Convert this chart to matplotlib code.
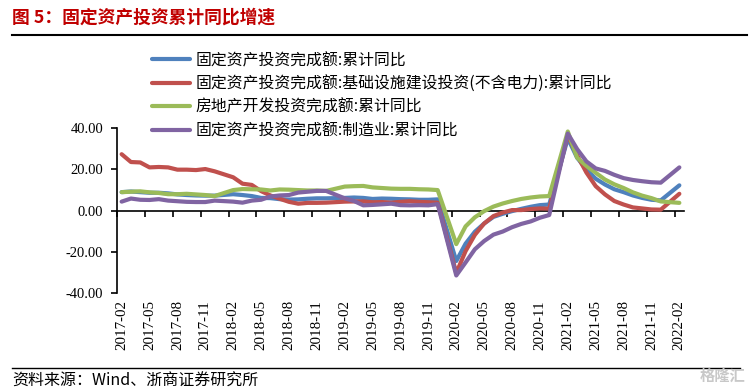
import matplotlib
matplotlib.use("Agg")
import matplotlib.pyplot as plt
from matplotlib.lines import Line2D

# ---------------- data ----------------
years = [2017, 2018, 2019, 2020, 2021, 2022]
months_per_year = {2017: list(range(2, 13)), 2018: list(range(2, 13)), 2019: list(range(2, 13)),
                   2020: list(range(2, 13)), 2021: list(range(2, 13)), 2022: [2]}

fai_total = [8.9, 9.2, 8.9, 8.6, 8.6, 8.3, 7.8, 7.5, 7.3, 7.2, 7.2,
             7.9, 7.5, 7.0, 6.1, 6.0, 5.5, 5.3, 5.4, 5.7, 5.9, 5.9,
             6.1, 6.3, 6.1, 5.6, 5.8, 5.7, 5.5, 5.4, 5.2, 5.2, 5.4,
             -24.5, -16.1, -10.3, -6.3, -3.1, -1.6, -0.3, 0.8, 1.8, 2.6, 2.9,
             35.0, 25.6, 19.9, 15.4, 12.6, 10.3, 8.9, 7.3, 6.1, 5.2, 4.9,
             12.2]
fai_infra = [27.3, 23.5, 23.3, 20.9, 21.1, 20.9, 19.8, 19.8, 19.6, 20.1, 19.0,
             16.1, 13.0, 12.4, 9.4, 7.3, 5.7, 4.2, 3.3, 3.7, 3.7, 3.8,
             4.3, 4.4, 4.4, 4.0, 4.1, 3.8, 4.2, 4.5, 4.2, 4.0, 3.8,
             -30.3, -19.7, -11.8, -6.3, -2.7, -1.0, 0.2, 0.2, 0.7, 1.0, 0.9,
             36.6, 26.8, 18.4, 11.8, 7.8, 4.6, 2.9, 1.5, 1.0, 0.5, 0.4,
             8.1]
fai_realestate = [8.9, 9.1, 9.3, 8.8, 8.5, 7.9, 7.9, 8.1, 7.8, 7.5, 7.0,
                  9.9, 10.4, 10.3, 10.2, 9.7, 10.2, 10.1, 9.9, 9.7, 9.7, 9.5,
                  11.6, 11.8, 11.9, 11.2, 10.9, 10.6, 10.5, 10.5, 10.3, 10.2, 9.9,
                  -16.3, -7.7, -3.3, -0.3, 1.9, 3.4, 4.6, 5.6, 6.3, 6.8, 7.0,
                  38.3, 25.6, 21.6, 18.3, 15.0, 12.7, 10.9, 8.8, 7.2, 6.0, 4.4,
                  3.7]
fai_manuf = [4.3, 5.8, 5.2, 5.1, 5.5, 4.8, 4.5, 4.2, 4.1, 4.1, 4.8,
             4.3, 3.8, 4.8, 5.2, 6.8, 7.3, 7.5, 8.7, 9.1, 9.5, 9.5,
             5.9, 4.6, 2.5, 2.7, 3.0, 3.3, 2.6, 2.5, 2.6, 2.5, 3.1,
             -31.5, -25.2, -18.8, -14.8, -11.7, -10.2, -8.1, -6.5, -5.3, -3.5, -2.2,
             37.3, 29.8, 23.8, 20.4, 19.2, 17.3, 15.7, 14.8, 14.2, 13.7, 13.5,
             20.9]

series_names = ["固定资产投资完成额:累计同比",
                "固定资产投资完成额:基础设施建设投资(不含电力):累计同比",
                "房地产开发投资完成额:累计同比",
                "固定资产投资完成额:制造业:累计同比"]
series_colors = ["#4F81BD", "#C0504D", "#9BBB59", "#8064A2"]

tick_labels = ["2017-02", "2017-05", "2017-08", "2017-11", "2018-02", "2018-05", "2018-08",
               "2018-11", "2019-02", "2019-05", "2019-08", "2019-11", "2020-02", "2020-05",
               "2020-08", "2020-11", "2021-02", "2021-05", "2021-08", "2021-11", "2022-02"]
y_ticks = [-40, -20, 0, 20, 40]

title = "图 5：固定资产投资累计同比增速"
source = "资料来源：Wind、浙商证券研究所"

# month index from 2017-02 (January has no data; lines connect across it)
x_pos = [(y - 2017) * 12 + (m - 2) for y in years for m in months_per_year[y]]
tick_pos = [(int(s[:4]) - 2017) * 12 + (int(s[5:]) - 2) for s in tick_labels]

# ---------------- figure ----------------
W, H = 756, 391
fig = plt.figure(figsize=(W / 100, H / 100), dpi=100)
fig.patch.set_facecolor("white")

cjk = ["Noto Sans CJK SC", "DejaVu Sans"]
serif = ["Liberation Serif", "DejaVu Serif"]

L, R, T, B = 117, 684, 128, 293
ax = fig.add_axes([L / W, 1 - B / H, (R - L) / W, (B - T) / H])

for vals, col in zip([fai_total, fai_infra, fai_realestate, fai_manuf], series_colors):
    ax.plot(x_pos, vals, color=col, lw=3.0, solid_joinstyle="round", solid_capstyle="round", zorder=3)

ax.set_xlim(-0.5, 60.5)
ax.set_ylim(-40, 40)
for s in ["top", "right"]:
    ax.spines[s].set_visible(False)
ax.spines["left"].set_color("black")
ax.spines["left"].set_linewidth(1.2)
ax.spines["bottom"].set_position(("data", 0))
ax.spines["bottom"].set_color("black")
ax.spines["bottom"].set_linewidth(1.2)
ax.spines["bottom"].set_zorder(2)

ax.set_yticks(y_ticks)
ax.set_yticklabels([f"{v:.2f}" for v in y_ticks], fontfamily=serif, fontsize=10.5)
ax.tick_params(axis="y", direction="out", length=4, width=1.2, pad=6)

ax.set_xticks([p - 0.5 for p in tick_pos])
ax.set_xticklabels([])
ax.tick_params(axis="x", direction="out", length=4, width=1.2)

sec = ax.secondary_xaxis("bottom")
sec.spines["bottom"].set_visible(False)
sec.set_xticks(tick_pos)
sec.set_xticklabels(tick_labels, rotation=90, fontfamily=serif, fontsize=10.8)
sec.tick_params(axis="x", length=0, pad=5)

# legend
handles = [Line2D([], [], color=c, lw=3.0, solid_capstyle="round") for c in series_colors]
fig.legend(handles, series_names, loc="upper left", bbox_to_anchor=(152 / W, 1 - 52 / H),
           frameon=False, prop={"family": cjk, "size": 11.4}, handlelength=2.4,
           handletextpad=0.35, labelspacing=0.4, borderaxespad=0, borderpad=0)

# title, rules, source
fig.text(12 / W, 1 - 18 / H, title, color="#C00000", fontsize=12.8, fontweight="bold",
         fontfamily=cjk, va="center", ha="left")
fig.add_artist(Line2D([12 / W, 747 / W], [1 - 35 / H, 1 - 35 / H], color="black", lw=1.5))
fig.add_artist(Line2D([12 / W, 740 / W], [1 - 368 / H, 1 - 368 / H], color="black", lw=1.0))
fig.text(12 / W, 1 - 381 / H, source, color="black", fontsize=11.5, fontfamily=cjk,
         va="center", ha="left")
fig.text(745 / W, 1 - 376 / H, "格隆汇", color="#C8C8C8", fontsize=11, fontfamily=cjk,
         va="center", ha="right", fontweight="bold")

fig.savefig("out.png", dpi=100, facecolor="white")
